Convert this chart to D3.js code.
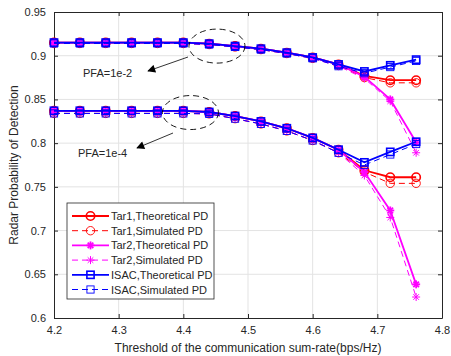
<!DOCTYPE html>
<html>
<head>
<meta charset="utf-8">
<script src="https://cdn.jsdelivr.net/npm/d3@7"></script>
<style>
  body { margin: 0; background: #fff; }
  svg text { font-family: "Liberation Sans", Arial, sans-serif; fill: #262626; }
</style>
</head>
<body>
<div id="chart"></div>
<script>
// Threshold of the communication sum-rate (bps/Hz)
const rates = [4.20, 4.24, 4.28, 4.32, 4.36, 4.40, 4.44, 4.48, 4.52, 4.56, 4.60, 4.64, 4.68, 4.72, 4.76];

// PFA = 1e-2
const tar1TheoHi = [0.915, 0.915, 0.915, 0.915, 0.915, 0.915, 0.9138, 0.911, 0.908, 0.9035, 0.898, 0.890, 0.877, 0.872, 0.872];
const tar1SimHi  = [0.914, 0.914, 0.914, 0.914, 0.914, 0.914, 0.9128, 0.910, 0.907, 0.9025, 0.897, 0.889, 0.875, 0.869, 0.869];
const tar2TheoHi = [0.915, 0.915, 0.915, 0.915, 0.915, 0.915, 0.9138, 0.911, 0.908, 0.9035, 0.898, 0.890, 0.876, 0.850, 0.801];
const tar2SimHi  = [0.914, 0.914, 0.914, 0.914, 0.914, 0.914, 0.9128, 0.910, 0.907, 0.9025, 0.897, 0.888, 0.874, 0.848, 0.789];
const isacTheoHi = [0.915, 0.915, 0.915, 0.915, 0.915, 0.915, 0.9138, 0.911, 0.908, 0.9035, 0.898, 0.890, 0.882, 0.889, 0.8955];
const isacSimHi  = [0.914, 0.914, 0.914, 0.914, 0.914, 0.914, 0.9128, 0.910, 0.907, 0.9025, 0.897, 0.888, 0.880, 0.887, 0.894];

// PFA = 1e-4
const tar1TheoLo = [0.837, 0.837, 0.837, 0.837, 0.837, 0.837, 0.8356, 0.831, 0.8248, 0.817, 0.806, 0.7925, 0.769, 0.761, 0.761];
const tar1SimLo  = [0.834, 0.834, 0.834, 0.834, 0.834, 0.834, 0.8335, 0.828, 0.822, 0.814, 0.803, 0.789, 0.767, 0.754, 0.754];
const tar2TheoLo = [0.837, 0.837, 0.837, 0.837, 0.837, 0.837, 0.8356, 0.831, 0.8248, 0.817, 0.806, 0.7925, 0.767, 0.723, 0.6385];
const tar2SimLo  = [0.834, 0.834, 0.834, 0.834, 0.834, 0.834, 0.8335, 0.828, 0.822, 0.814, 0.803, 0.789, 0.763, 0.715, 0.624];
const isacTheoLo = [0.837, 0.837, 0.837, 0.837, 0.837, 0.837, 0.8356, 0.831, 0.8248, 0.817, 0.806, 0.7925, 0.778, 0.790, 0.8016];
const isacSimLo  = [0.834, 0.834, 0.834, 0.834, 0.834, 0.834, 0.8335, 0.828, 0.822, 0.814, 0.803, 0.789, 0.775, 0.787, 0.799];

const xTicks = [4.2, 4.3, 4.4, 4.5, 4.6, 4.7, 4.8];
const yTicks = [0.6, 0.65, 0.7, 0.75, 0.8, 0.85, 0.9, 0.95];

const seriesNames = ["Tar1,Theoretical PD", "Tar1,Simulated PD", "Tar2,Theoretical PD",
                     "Tar2,Simulated PD", "ISAC,Theoretical PD", "ISAC,Simulated PD"];

// Chart setup
const W = 451, H = 356;
const margin = { top: 12, right: 9, bottom: 38, left: 54 };
const width = W - margin.left - margin.right;
const height = H - margin.top - margin.bottom;

const svg = d3.select("#chart").append("svg")
    .attr("width", W)
    .attr("height", H);

const g = svg.append("g")
    .attr("transform", `translate(${margin.left},${margin.top})`);

const x = d3.scaleLinear().domain([4.2, 4.8]).range([0, width]);
const y = d3.scaleLinear().domain([0.6, 0.95]).range([height, 0]);

// Grid
g.append("g").selectAll("line").data(xTicks.slice(1, -1)).enter().append("line")
    .attr("x1", d => x(d)).attr("x2", d => x(d))
    .attr("y1", 0).attr("y2", height)
    .attr("stroke", "#e3e3e3").attr("stroke-width", 1);
g.append("g").selectAll("line").data(yTicks.slice(1, -1)).enter().append("line")
    .attr("y1", d => y(d)).attr("y2", d => y(d))
    .attr("x1", 0).attr("x2", width)
    .attr("stroke", "#e3e3e3").attr("stroke-width", 1);

// Axes (ticks inward, box on)
const fmt = d => String(+d.toFixed(2));
const styleAxis = sel => {
    sel.select(".domain").attr("stroke", "#262626");
    sel.selectAll(".tick line").attr("stroke", "#262626");
    sel.selectAll(".tick text").style("font-size", "11px").attr("fill", "#262626");
};
g.append("g").attr("transform", `translate(0,${height})`)
    .call(d3.axisBottom(x).tickValues(xTicks).tickFormat(fmt).tickSizeInner(-4).tickSizeOuter(0).tickPadding(8))
    .call(styleAxis);
g.append("g")
    .call(d3.axisLeft(y).tickValues(yTicks).tickFormat(fmt).tickSizeInner(-4).tickSizeOuter(0).tickPadding(8))
    .call(styleAxis);
g.append("g")
    .call(d3.axisTop(x).tickValues(xTicks).tickFormat("").tickSizeInner(-4).tickSizeOuter(0))
    .call(styleAxis);
g.append("g").attr("transform", `translate(${width},0)`)
    .call(d3.axisRight(y).tickValues(yTicks).tickFormat("").tickSizeInner(-4).tickSizeOuter(0))
    .call(styleAxis);

// Axis labels
svg.append("text")
    .attr("x", margin.left + width / 2).attr("y", H - 4)
    .attr("text-anchor", "middle").style("font-size", "12px")
    .text("Threshold of the communication sum-rate(bps/Hz)");
svg.append("text")
    .attr("transform", `translate(18,${margin.top + height / 2}) rotate(-90)`)
    .attr("text-anchor", "middle").style("font-size", "12px")
    .text("Radar Probability of Detection");

// Marker drawing
function drawMarker(sel, type, color, filled) {
    if (type === "circle") {
        sel.append("circle").attr("r", 4.2)
            .attr("fill", "none").attr("stroke", color).attr("stroke-width", filled ? 1.6 : 0.9);
    } else if (type === "square") {
        sel.append("rect").attr("x", -3.6).attr("y", -3.6).attr("width", 7.2).attr("height", 7.2)
            .attr("fill", "none").attr("stroke", color).attr("stroke-width", filled ? 1.6 : 0.9);
    } else {
        const r = 4;
        const sw = filled ? 1.8 : 1;
        [[-r, 0, r, 0], [0, -r, 0, r], [-r * 0.7, -r * 0.7, r * 0.7, r * 0.7], [-r * 0.7, r * 0.7, r * 0.7, -r * 0.7]]
            .forEach(p => sel.append("line")
                .attr("x1", p[0]).attr("y1", p[1]).attr("x2", p[2]).attr("y2", p[3])
                .attr("stroke", color).attr("stroke-width", sw));
    }
}

const styles = [
    { color: "#ff0000", marker: "circle", solid: true },
    { color: "#ff0000", marker: "circle", solid: false },
    { color: "#ff00ff", marker: "star", solid: true },
    { color: "#ff00ff", marker: "star", solid: false },
    { color: "#0000ff", marker: "square", solid: true },
    { color: "#0000ff", marker: "square", solid: false }
];

const groups = [
    [tar1TheoHi, tar1SimHi, tar2TheoHi, tar2SimHi, isacTheoHi, isacSimHi],
    [tar1TheoLo, tar1SimLo, tar2TheoLo, tar2SimLo, isacTheoLo, isacSimLo]
];

const line = d3.line().x((d, i) => x(rates[i])).y(d => y(d));

styles.forEach((s, k) => {
    groups.forEach(grp => {
        const vals = grp[k];
        g.append("path").datum(vals)
            .attr("d", line)
            .attr("fill", "none")
            .attr("stroke", s.color)
            .attr("stroke-width", s.solid ? 1.8 : 1)
            .attr("stroke-dasharray", s.solid ? null : "6,4");
        vals.forEach((v, i) => {
            const m = g.append("g").attr("transform", `translate(${x(rates[i])},${y(v)})`);
            drawMarker(m, s.marker, s.color, s.solid);
        });
    });
});

// Annotations: ellipses, arrows, labels
const ann = [
    { cx: 4.452, cy: 0.911, label: "PFA=1e-2", from: [188, 57], to: [148, 71], tx: 83, ty: 77 },
    { cx: 4.411, cy: 0.835, label: "PFA=1e-4", from: [173, 133], to: [137, 148], tx: 78, ty: 157 }
];
svg.append("defs").append("marker")
    .attr("id", "arrow").attr("viewBox", "0 0 10 10")
    .attr("refX", 9).attr("refY", 5)
    .attr("markerWidth", 10).attr("markerHeight", 8)
    .attr("markerUnits", "userSpaceOnUse")
    .attr("orient", "auto")
    .append("path").attr("d", "M0,0 L10,5 L0,10 z").attr("fill", "#000");

ann.forEach(a => {
    g.append("ellipse")
        .attr("cx", x(a.cx)).attr("cy", y(a.cy))
        .attr("rx", 28).attr("ry", 17)
        .attr("fill", "none").attr("stroke", "#000")
        .attr("stroke-width", 0.9).attr("stroke-dasharray", "6,4");
    svg.append("line")
        .attr("x1", a.from[0]).attr("y1", a.from[1])
        .attr("x2", a.to[0]).attr("y2", a.to[1])
        .attr("stroke", "#000").attr("stroke-width", 0.8)
        .attr("marker-end", "url(#arrow)");
    svg.append("text")
        .attr("x", a.tx).attr("y", a.ty)
        .style("font-size", "11px").attr("fill", "#000")
        .text(a.label);
});

// Legend
const leg = svg.append("g").attr("transform", "translate(67,203)");
leg.append("rect")
    .attr("width", 147).attr("height", 96)
    .attr("fill", "#fff").attr("stroke", "#262626").attr("stroke-width", 0.8);
styles.forEach((s, k) => {
    const row = leg.append("g").attr("transform", `translate(0,${13 + k * 14.7})`);
    row.append("line")
        .attr("x1", 5).attr("x2", 42)
        .attr("stroke", s.color)
        .attr("stroke-width", s.solid ? 1.8 : 1)
        .attr("stroke-dasharray", s.solid ? null : "6,4");
    const m = row.append("g").attr("transform", "translate(23.5,0)");
    drawMarker(m, s.marker, s.color, s.solid);
    row.append("text")
        .attr("x", 44).attr("y", 4)
        .style("font-size", "11px")
        .text(seriesNames[k]);
});
</script>
</body>
</html>
